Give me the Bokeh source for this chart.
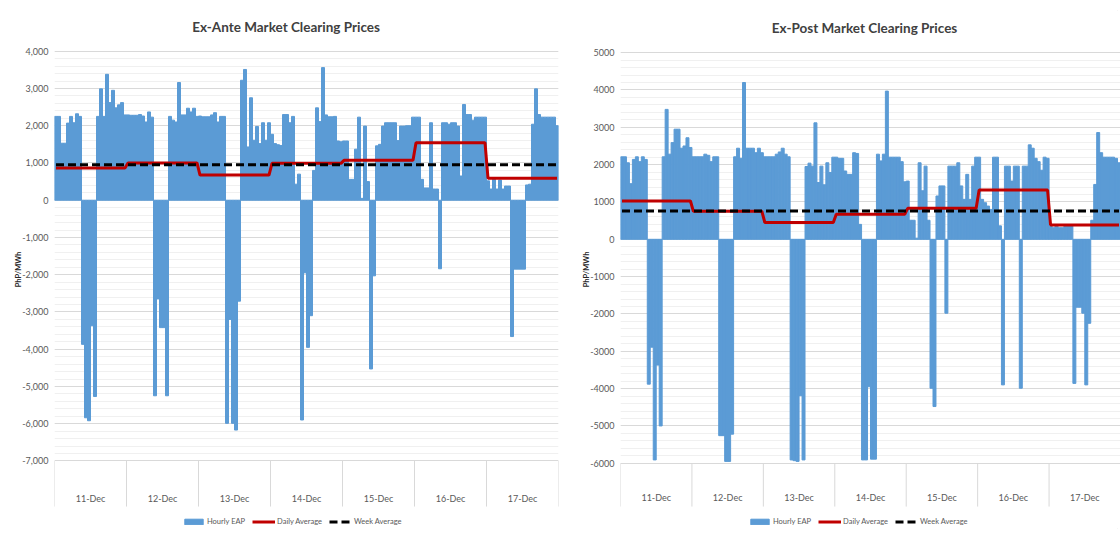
import numpy as np
from bokeh.plotting import figure
from bokeh.models import (ColumnDataSource, FixedTicker, NumeralTickFormatter, Legend,
                          LegendItem, Range1d)
from bokeh.layouts import row
from bokeh.embed import file_html
from bokeh.resources import INLINE
from bokeh.core.properties import value

# ---------------- data ----------------
days = ["11-Dec", "12-Dec", "13-Dec", "14-Dec", "15-Dec", "16-Dec", "17-Dec"]

# Ex-Ante hourly EAP (PhP/MWh), 24 hours per day
ea_11 = [2250, 2250, 1530, 1530, 2070, 2250, 2080, 2320, 2250, -3870, -5840, -5920, -3370, -5270,
         2250, 2990, 2250, 3380, 2620, 2950, 2480, 2560, 2620, 2290]
ea_12 = [2290, 2280, 2280, 2280, 2300, 2260, 2100, 2370, 2230, -5250, -2650, -3420, -3420, -5250,
         2250, 2150, 2100, 3160, 2290, 2290, 2470, 2370, 2470, 2250]
ea_13 = [2260, 2240, 2240, 2240, 2290, 2350, 2100, 2250, 2250, -5990, -3200, -5990, -6170, -2710,
         3220, 3510, 1430, 2750, 1610, 1980, 1520, 2080, 1610, 2080]
ea_14 = [1770, 1520, 1490, 1470, 2300, 2300, 2080, 2250, 430, 700, -5900, -1950, -3950, -3100,
         800, 2480, 2110, 3560, 2290, 2240, 2240, 2250, 1590, 1570]
ea_15 = [1590, 1590, 560, 560, 1370, 2230, 50, 1990, 500, -4530, -2030, 1460, 1500, 1990,
         2080, 2080, 2080, 2080, 1600, 1990, 1990, 2000, 2000, 2230]
ea_16 = [2230, 2230, 560, 330, 330, 2080, 300, 300, -1840, 2080, 2080, 2040, 2080, 2080,
         1990, 650, 2570, 2300, 2300, 2150, 2230, 2230, 2230, 2230]
ea_17 = [520, 300, 560, 300, 540, 300, 380, 380, -3660, -1850, -1850, -1850, -1850, 410,
         430, 2040, 2990, 2300, 2230, 2230, 2230, 2230, 2230, 2000]
ea_daily = [865, 1000, 675, 990, 1070, 1545, 590]
ea_week = 950

# Ex-Post hourly EAP (PhP/MWh)
ep_11 = [2210, 2210, 2050, 1490, 2140, 2210, 2080, 2210, 2140, -3880, -2890, -5910, -3370, -5000,
         2210, 3480, 2280, 2590, 2950, 2950, 2440, 2500, 2720, 2460]
ep_12 = [2210, 2210, 2210, 2210, 2280, 2250, 2080, 2210, 2210, -5260, -5260, -5950, -5950, -5220,
         2210, 2440, 2170, 4200, 2440, 2440, 2440, 2320, 2440, 2320]
ep_13 = [2210, 2210, 2210, 2210, 2280, 2340, 2440, 2280, 2210, -5910, -5930, -5950, -4190, -5910,
         1950, 2040, 1960, 3120, 1520, 1960, 1460, 2050, 1790, 2200]
ep_14 = [2200, 2170, 2170, 1830, 1740, 1740, 2320, 2300, 400, -5910, -5910, -3950, -5890, -5890,
         2280, 2100, 2280, 3970, 2200, 2200, 2200, 2200, 2080, 1540]
ep_15 = [1560, 510, 510, 30, 2050, 1300, 1960, 510, -3990, -4480, 1160, 1430, 1430, -1980,
         1960, 1960, 1960, 2050, 1430, 1070, 1740, 1070, 1960, 2200]
ep_16 = [2200, 1070, 980, 890, 800, 2200, 2200, 360, -3900, 1960, 1960, 1560, 1960, 1960,
         -3990, 1960, 1960, 2530, 2440, 2170, 2080, 1850, 2200, 2170]
ep_17 = [360, 310, 360, 310, 310, 360, 360, 360, -3860, -1820, -1820, -1980, -3900, -2250,
         510, 1470, 2860, 2320, 2200, 2200, 2200, 2200, 2170, 2050]
ep_daily = [1025, 750, 450, 670, 830, 1320, 385]
ep_week = 760

ea_ticks = list(range(-7000, 4001, 1000))
ep_ticks = list(range(-6000, 5001, 1000))

# ---------------- style ----------------
FONT = "Lato"
BLUE = "#5B9BD5"
RED = "#C00000"
GRID = "#D9D9D9"
MINOR = "#F0F0F0"
TXT = "#595959"


def panel(title, hourly_days, daily, week, ticks, fmt, width, border_left, border_right,
          y_lo, y_hi, title_xy, lab_y, div_bottom):
    hourly = np.concatenate([np.asarray(d, float) for d in hourly_days])
    n = len(hourly)
    per_day = n // len(days)
    xs = np.arange(n) + 0.5
    src = ColumnDataSource(dict(x=xs, y=hourly))
    line_src = ColumnDataSource(dict(x=xs, d=np.repeat(daily, per_day), w=np.full(n, week)))

    p = figure(width=width, height=538, x_range=Range1d(0, n), y_range=Range1d(y_lo, y_hi),
               output_backend="svg", toolbar_location=None, x_axis_location=None,
               min_border_left=border_left, min_border_right=border_right,
               min_border_top=10, min_border_bottom=10, outline_line_color=None,
               styles={"outline": "1px solid #D9D9D9", "outline-offset": "-3px"})

    minor = list(np.arange(ticks[0], ticks[-1] + 1, 200))
    p.ygrid.ticker = FixedTicker(ticks=ticks, minor_ticks=minor)
    p.ygrid.grid_line_color = GRID
    p.ygrid.minor_grid_line_color = MINOR
    p.xgrid.visible = False

    ax = p.yaxis[0]
    ax.ticker = FixedTicker(ticks=ticks)
    ax.formatter = NumeralTickFormatter(format=fmt)
    ax.axis_line_color = None
    ax.major_tick_line_color = None
    ax.minor_tick_line_color = None
    ax.major_tick_out = 0
    ax.major_tick_in = 0
    ax.major_label_standoff = 6
    ax.major_label_text_font = FONT
    ax.major_label_text_font_size = "9px"
    ax.major_label_text_color = TXT
    ax.axis_label = "PhP/MWh"
    ax.axis_label_text_font = FONT
    ax.axis_label_text_font_size = "7.5px"
    ax.axis_label_text_font_style = "bold"
    ax.axis_label_text_color = "#262626"
    ax.axis_label_standoff = -4

    bars = p.vbar(x="x", top="y", bottom=0, width=1.0, source=src, fill_color=BLUE,
                  line_color=BLUE, line_width=1)
    rl = p.line("x", "d", source=line_src, line_color=RED, line_width=3)
    bl = p.line("x", "w", source=line_src, line_color="black", line_width=3, line_dash="8 4")

    # category axis area (day labels + separators)
    bounds = np.arange(0, n + 1, per_day)
    p.segment(x0=bounds, y0=np.full(len(bounds), ticks[0]), x1=bounds,
              y1=np.full(len(bounds), div_bottom), line_color=GRID, line_width=1)
    centers = np.arange(len(days)) * per_day + per_day / 2
    p.text(x=centers, y=np.full(len(days), lab_y), text=days, text_align="center",
           text_baseline="middle", text_font=value(FONT), text_font_size="9px",
           text_color=TXT)

    # title
    p.text(x=[title_xy[0]], y=[title_xy[1]], text=[title], text_align="center",
           text_baseline="middle", text_font=value(FONT), text_font_size="13.5px",
           text_font_style="bold", text_color="#404040")

    leg = Legend(items=[LegendItem(label="Hourly EAP", renderers=[bars]),
                        LegendItem(label="Daily Average", renderers=[rl]),
                        LegendItem(label="Week Average", renderers=[bl])],
                 location=(128, 2), orientation="horizontal", background_fill_alpha=0,
                 border_line_color=None, label_text_font=FONT, label_text_font_size="7.5px",
                 label_text_color=TXT, glyph_width=23, glyph_height=7, label_standoff=2,
                 spacing=7, padding=0, margin=0)
    p.add_layout(leg)
    return p


p1 = panel("Ex-Ante Market Clearing Prices",
           [ea_11, ea_12, ea_13, ea_14, ea_15, ea_16, ea_17], ea_daily, ea_week,
           ea_ticks, "0,0", 566, 54, 8, -8813, 5093,
           (77.2, 4663), -8008, -8223)
p2 = panel("Ex-Post Market Clearing Prices",
           [ep_11, ep_12, ep_13, ep_14, ep_15, ep_16, ep_17], ep_daily, ep_week,
           ep_ticks, "0", 548, 48, 0, -7747, 6129,
           (82.0, 5647), -6918, -7159)

layout = row(p1, p2, spacing=6)
open("out.html", "w").write(file_html(layout, INLINE))
